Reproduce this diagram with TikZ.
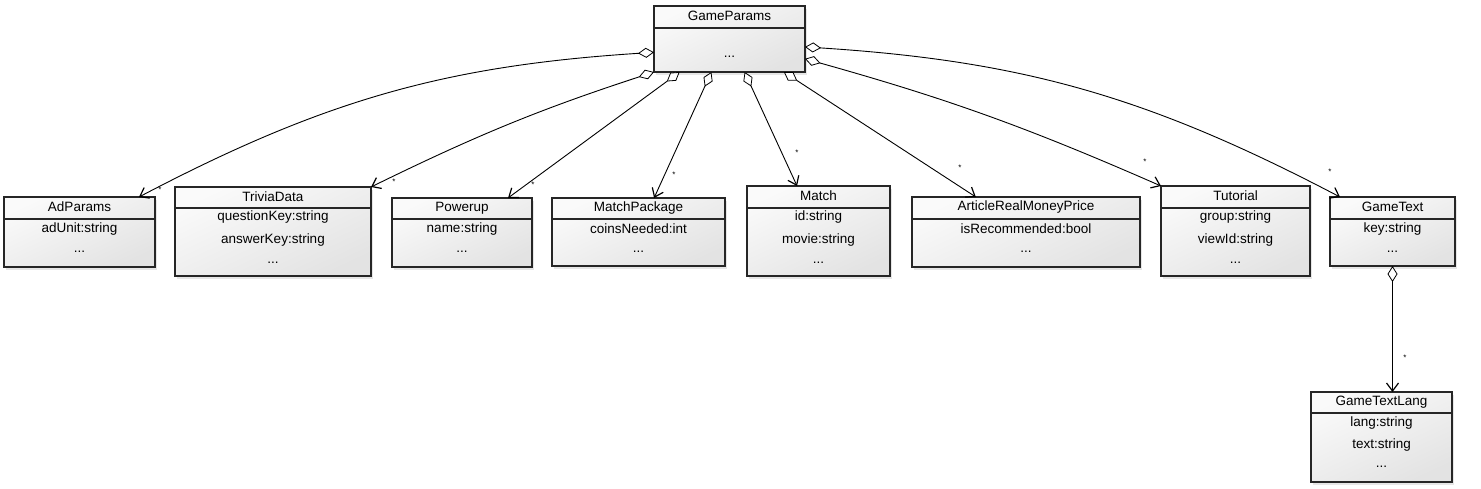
\documentclass[tikz,border=0pt]{standalone}
\usepackage{fontspec}
\setmainfont{Liberation Sans}
\usetikzlibrary{arrows.meta,shadows,calc}
\begin{document}
\begin{tikzpicture}[x=1pt,y=-1pt,
  cls/.style={draw=black!85,line width=1.1pt,inner sep=0pt,outer sep=0pt,anchor=north west,
    top color=black!2,bottom color=black!11,shading angle=25,
    drop shadow={shadow xshift=2pt,shadow yshift=-3pt,opacity=0.2}},
  txt/.style={inner sep=0pt,font=\fontsize{13.5}{15}\selectfont},
  sep/.style={draw=black!85,line width=1.1pt},
  agg/.style={draw=black,line width=0.9pt,{Diamond[fill=white,length=16pt,width=10pt,line width=0.8pt]}-{Straight Barb[length=8pt,width=12pt,line width=1.2pt]}},
  mult/.style={inner sep=0pt,font=\footnotesize}]
\useasboundingbox (0,0) rectangle (1481,488);

% GameParams
\node[cls,minimum width=151pt,minimum height=66pt] (gp) at (654,6) {};
\draw[sep] (654,28) -- (805,28);
\node[txt] (gpt) at (729.5,16) {GameParams};
\node[txt] (gpd) at (729.5,57) {...};

% AdParams
\node[cls,minimum width=151pt,minimum height=70pt] (ap) at (4,197) {};
\draw[sep] (4,219) -- (155,219);
\node[txt] (apt) at (79.5,207) {AdParams};
\node[txt] (ap1) at (79.5,229) {adUnit:string};
\node[txt] (ap2) at (79.5,252) {...};

% TriviaData
\node[cls,minimum width=196pt,minimum height=89pt] (td) at (175,187) {};
\draw[sep] (175,208) -- (371,208);
\node[txt] (tdt) at (273,197) {TriviaData};
\node[txt] (td1) at (273,217) {questionKey:string};
\node[txt] (td2) at (273,240) {answerKey:string};
\node[txt] (td3) at (273,263) {...};

% Powerup
\node[cls,minimum width=140pt,minimum height=69pt] (pu) at (392,198) {};
\draw[sep] (392,219) -- (532,219);
\node[txt] (put) at (462,208) {Powerup};
\node[txt] (pu1) at (462,229) {name:string};
\node[txt] (pu2) at (462,252) {...};

% MatchPackage
\node[cls,minimum width=173pt,minimum height=68pt] (mp) at (552,198) {};
\draw[sep] (552,219) -- (725,219);
\node[txt] (mpt) at (638.5,208) {MatchPackage};
\node[txt] (mp1) at (638.5,229) {coinsNeeded:int};
\node[txt] (mp2) at (638.5,252) {...};

% Match
\node[cls,minimum width=143pt,minimum height=90pt] (ma) at (747,186) {};
\draw[sep] (747,208) -- (890,208);
\node[txt] (mat) at (818.5,196) {Match};
\node[txt] (ma1) at (818.5,217) {id:string};
\node[txt] (ma2) at (818.5,240) {movie:string};
\node[txt] (ma3) at (818.5,263) {...};

% ArticleRealMoneyPrice
\node[cls,minimum width=228pt,minimum height=70pt] (ar) at (912,197) {};
\draw[sep] (912,219) -- (1140,219);
\node[txt] (art) at (1026,207) {ArticleRealMoneyPrice};
\node[txt] (ar1) at (1026,229) {isRecommended:bool};
\node[txt] (ar2) at (1026,252) {...};

% Tutorial
\node[cls,minimum width=149pt,minimum height=90pt] (tu) at (1161,186) {};
\draw[sep] (1161,208) -- (1310,208);
\node[txt] (tut) at (1235.5,196) {Tutorial};
\node[txt] (tu1) at (1235.5,217) {group:string};
\node[txt] (tu2) at (1235.5,240) {viewId:string};
\node[txt] (tu3) at (1235.5,263) {...};

% GameText
\node[cls,minimum width=125pt,minimum height=69pt] (gt) at (1330,197) {};
\draw[sep] (1330,219) -- (1455,219);
\node[txt] (gtt) at (1392.5,207) {GameText};
\node[txt] (gt1) at (1392.5,229) {key:string};
\node[txt] (gt2) at (1392.5,252) {...};

% GameTextLang
\node[cls,minimum width=141pt,minimum height=90pt] (gl) at (1311,392) {};
\draw[sep] (1311,413) -- (1452,413);
\node[txt] (glt) at (1381.5,402) {GameTextLang};
\node[txt] (gl1) at (1381.5,423) {lang:string};
\node[txt] (gl2) at (1381.5,445) {text:string};
\node[txt] (gl3) at (1381.5,467) {...};

% aggregations
\draw[agg] (gp.190) to[bend right=12] ($(ap.north east)+(-16,0)$);
\draw[agg] (gp.south west) to[bend right=4] (td.north east);
\draw[agg] ($(gp.south west)!0.17!(gp.south east)$) -- ($(pu.north east)+(-24,0)$);
\draw[agg] ($(gp.south west)!0.38!(gp.south east)$) -- ($(mp.north west)!0.59!(mp.north east)$);
\draw[agg] ($(gp.south west)!0.60!(gp.south east)$) -- ($(ma.north west)!0.35!(ma.north east)$);
\draw[agg] ($(gp.south west)!0.86!(gp.south east)$) -- ($(ar.north west)!0.28!(ar.north east)$);
\draw[agg] ($(gp.north east)!0.80!(gp.south east)$) to[bend left=4] (tu.north west);
\draw[agg] ($(gp.north east)!0.62!(gp.south east)$) to[bend left=12] ($(gt.north west)+(10,0)$);
\draw[agg] (gt.south) -- (gl.north -| gt.south);

% multiplicities
\node[mult] (m1) at (160,190) {*};
\node[mult] (m2) at (394,182) {*};
\node[mult] (m3) at (533,185) {*};
\node[mult] (m4) at (674,175) {*};
\node[mult] (m5) at (797,153) {*};
\node[mult] (m6) at (960,168) {*};
\node[mult] (m7) at (1145,162) {*};
\node[mult] (m8) at (1330,172) {*};
\node[mult] (m9) at (1405,358) {*};
\end{tikzpicture}
\end{document}
